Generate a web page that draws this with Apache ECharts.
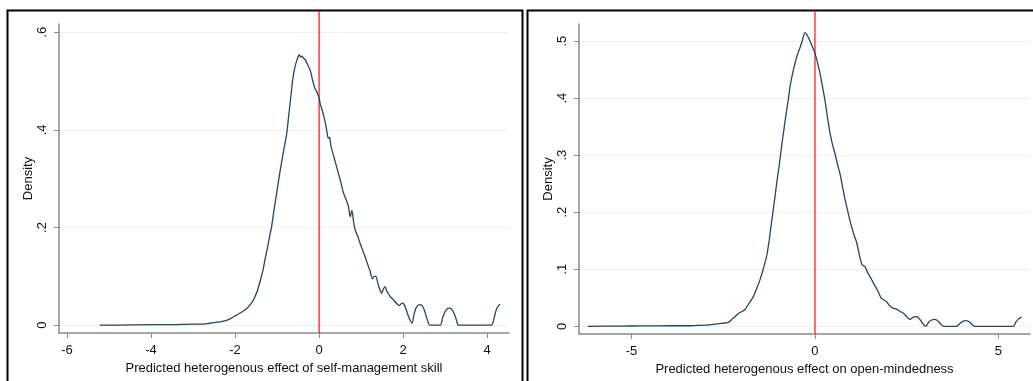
<!DOCTYPE html>
<html>
<head>
<meta charset="utf-8">
<script src="https://cdn.jsdelivr.net/npm/echarts@6.0.0/dist/echarts.min.js"></script>
<style>
  html, body { margin: 0; padding: 0; background: #fff; }
  #chart { width: 1033px; height: 381px; }
</style>
</head>
<body>
<div id="chart"></div>
<script>
// left panel: self-management skill
var selfX = [-5.22, -4.5, -4.0, -3.5, -3.0, -2.83, -2.6, -2.44, -2.3, -2.2, -2.1, -2.0, -1.9, -1.8, -1.72, -1.64, -1.56, -1.48, -1.40, -1.33,
  -1.28, -1.23, -1.17, -1.13, -1.07, -1.01, -0.95, -0.89, -0.83, -0.77, -0.72, -0.67, -0.62, -0.57, -0.52, -0.47, -0.44, -0.41, -0.37, -0.33,
  -0.27, -0.21, -0.15, -0.10, -0.06, -0.03, 0.0, 0.03, 0.06, 0.10, 0.14, 0.18, 0.22, 0.25, 0.28, 0.34, 0.40, 0.46, 0.52, 0.58,
  0.64, 0.70, 0.74, 0.78, 0.82, 0.86, 0.92, 0.98, 1.04, 1.10, 1.16, 1.21, 1.27, 1.31, 1.35, 1.40, 1.45, 1.49, 1.53, 1.57,
  1.61, 1.69, 1.77, 1.85, 1.91, 1.97, 2.02, 2.08, 2.14, 2.21, 2.26, 2.31, 2.36, 2.40, 2.45, 2.50, 2.55, 2.60, 2.63, 2.88,
  2.94, 3.00, 3.06, 3.10, 3.15, 3.21, 3.27, 3.32, 4.10, 4.14, 4.18, 4.22, 4.27, 4.31];
var selfDensity = [0, 0.0005, 0.001, 0.001, 0.002, 0.002, 0.004, 0.006, 0.008, 0.010, 0.014, 0.019, 0.024, 0.029, 0.034, 0.042, 0.052, 0.068, 0.091, 0.115,
  0.138, 0.158, 0.185, 0.202, 0.237, 0.270, 0.304, 0.335, 0.364, 0.393, 0.432, 0.470, 0.508, 0.530, 0.545, 0.554, 0.549, 0.551, 0.547, 0.544,
  0.533, 0.522, 0.500, 0.485, 0.479, 0.473, 0.466, 0.452, 0.445, 0.432, 0.418, 0.400, 0.383, 0.385, 0.368, 0.349, 0.330, 0.311, 0.292, 0.271,
  0.258, 0.243, 0.222, 0.235, 0.212, 0.195, 0.182, 0.167, 0.153, 0.139, 0.124, 0.112, 0.095, 0.100, 0.100, 0.085, 0.072, 0.065, 0.074, 0.079,
  0.070, 0.059, 0.052, 0.044, 0.040, 0.045, 0.043, 0.030, 0.015, 0.004, 0.022, 0.036, 0.041, 0.042, 0.040, 0.032, 0.018, 0.005, 0, 0,
  0.015, 0.028, 0.034, 0.035, 0.033, 0.025, 0.010, 0, 0, 0.006, 0.020, 0.032, 0.040, 0.043];

// right panel: open-mindedness
var openX = [-6.19, -5.5, -5.0, -4.5, -4.0, -3.5, -3.22, -3.0, -2.77, -2.55, -2.36, -2.25, -2.13, -2.02, -1.91, -1.80, -1.68, -1.59, -1.50, -1.41,
  -1.32, -1.26, -1.21, -1.15, -1.09, -1.03, -0.97, -0.91, -0.84, -0.77, -0.72, -0.68, -0.61, -0.545, -0.48, -0.41, -0.34, -0.27, -0.20, -0.136,
  -0.07, 0.0, 0.07, 0.136, 0.20, 0.27, 0.34, 0.41, 0.48, 0.545, 0.61, 0.68, 0.75, 0.82, 0.89, 0.95, 1.04, 1.14, 1.20, 1.27,
  1.32, 1.36, 1.43, 1.50, 1.61, 1.72, 1.80, 1.86, 1.95, 2.04, 2.13, 2.22, 2.32, 2.41, 2.50, 2.59, 2.68, 2.77, 2.86, 2.95,
  3.02, 3.10, 3.18, 3.27, 3.36, 3.44, 3.51, 3.86, 3.95, 4.04, 4.13, 4.22, 4.30, 4.36, 5.40, 5.47, 5.55, 5.63];
var openDensity = [0, 0.0003, 0.0005, 0.0007, 0.001, 0.001, 0.0015, 0.002, 0.0035, 0.005, 0.007, 0.013, 0.020, 0.025, 0.029, 0.040, 0.052, 0.066, 0.081, 0.100,
  0.122, 0.145, 0.169, 0.198, 0.227, 0.257, 0.284, 0.315, 0.348, 0.379, 0.400, 0.420, 0.443, 0.461, 0.476, 0.488, 0.502, 0.515, 0.509, 0.500,
  0.490, 0.479, 0.462, 0.444, 0.422, 0.397, 0.367, 0.339, 0.318, 0.303, 0.285, 0.268, 0.245, 0.222, 0.203, 0.186, 0.165, 0.146, 0.128, 0.110,
  0.106, 0.105, 0.095, 0.087, 0.074, 0.061, 0.050, 0.047, 0.043, 0.036, 0.032, 0.030, 0.026, 0.023, 0.017, 0.012, 0.016, 0.017, 0.012, 0.004,
  0, 0.007, 0.011, 0.012, 0.009, 0.003, 0, 0, 0.005, 0.009, 0.010, 0.007, 0.002, 0, 0, 0.007, 0.013, 0.016];

var selfXTicks = [-6, -4, -2, 0, 2, 4];
var selfYTicks = [0, 0.2, 0.4, 0.6];
var openXTicks = [-5, 0, 5];
var openYTicks = [0, 0.1, 0.2, 0.3, 0.4, 0.5];

// vertical reference line at zero effect
var refLineX = [0, 0];
var refLineY = [0, 1];

var selfTitle = 'Predicted heterogenous effect of self-management skill';
var openTitle = 'Predicted heterogenous effect on open-mindedness';

function zip(xs, ys) {
  var out = [];
  for (var i = 0; i < xs.length; i++) {
    out.push([xs[i], ys[i]]);
  }
  return out;
}

function fmtY(v) {
  if (v === 0) return '0';
  return String(+v.toFixed(2)).replace(/^0/, '');
}

var font = 'Liberation Sans, Arial, sans-serif';
var axisGray = '#8a8a8a';

function xAxisOpt(idx, min, max, ticks, title) {
  return {
    type: 'value',
    gridIndex: idx,
    min: min,
    max: max,
    name: title,
    nameLocation: 'middle',
    nameGap: 22,
    nameTextStyle: { color: '#111', fontSize: 13, fontFamily: font },
    axisLine: { onZero: false, lineStyle: { color: axisGray, width: 1.5 } },
    axisTick: { customValues: ticks, length: 5, lineStyle: { color: axisGray } },
    axisLabel: { customValues: ticks, margin: 11, color: '#111', fontSize: 13, fontFamily: font },
    splitLine: { show: false }
  };
}

function yAxisOpt(idx, min, max, ticks) {
  return {
    type: 'value',
    gridIndex: idx,
    min: min,
    max: max,
    name: 'Density',
    nameLocation: 'middle',
    nameGap: 22,
    nameTextStyle: { color: '#111', fontSize: 13, fontFamily: font },
    axisLine: { show: true, onZero: false, lineStyle: { color: axisGray, width: 1.5 } },
    axisTick: { show: true, customValues: ticks, length: 5, lineStyle: { color: axisGray } },
    axisLabel: { customValues: ticks, rotate: 90, margin: 10, color: '#111', fontSize: 13, fontFamily: font, formatter: fmtY },
    splitLine: { show: true, lineStyle: { color: '#e9f1f3', width: 1.2 } }
  };
}

// hidden axes for the overlay grids that carry the red reference line
function hiddenX(idx, min, max) {
  return { type: 'value', gridIndex: idx, min: min, max: max, show: false, splitLine: { show: false } };
}
function hiddenY(idx) {
  return { type: 'value', gridIndex: idx, min: 0, max: 1, show: false, splitLine: { show: false } };
}

function curve(idx, data) {
  return {
    type: 'line',
    xAxisIndex: idx,
    yAxisIndex: idx,
    data: data,
    showSymbol: false,
    smooth: 0.3,
    z: 3,
    lineStyle: { color: '#1a476f', width: 1.3 }
  };
}

function refLine(idx) {
  return {
    type: 'line',
    xAxisIndex: idx,
    yAxisIndex: idx,
    data: zip(refLineX, refLineY),
    showSymbol: false,
    silent: true,
    z: 2,
    lineStyle: { color: '#ff1a1a', width: 1.3 }
  };
}

var chart = echarts.init(document.getElementById('chart'), null, { renderer: 'canvas' });

var option = {
  backgroundColor: '#fff',
  animation: false,
  grid: [
    { left: 59, top: 24, width: 450, height: 309 },
    { left: 579, top: 24, width: 451, height: 310 },
    { left: 59, top: 11, width: 450, height: 322 },
    { left: 579, top: 11, width: 451, height: 323 }
  ],
  xAxis: [
    xAxisOpt(0, -6.19, 4.52, selfXTicks, selfTitle),
    xAxisOpt(1, -6.43, 5.86, openXTicks, openTitle),
    hiddenX(2, -6.19, 4.52),
    hiddenX(3, -6.43, 5.86)
  ],
  yAxis: [
    yAxisOpt(0, -0.016, 0.617, selfYTicks),
    yAxisOpt(1, -0.0135, 0.530, openYTicks),
    hiddenY(2),
    hiddenY(3)
  ],
  series: [
    refLine(2),
    refLine(3),
    curve(0, zip(selfX, selfDensity)),
    curve(1, zip(openX, openDensity))
  ],
  graphic: [
    { type: 'rect', shape: { x: 7.5, y: 10.5, width: 515, height: 400 }, style: { fill: null, stroke: '#000', lineWidth: 2 }, silent: true },
    { type: 'rect', shape: { x: 527.5, y: 10.5, width: 520, height: 400 }, style: { fill: null, stroke: '#000', lineWidth: 2 }, silent: true }
  ]
};

chart.setOption(option);
</script>
</body>
</html>
